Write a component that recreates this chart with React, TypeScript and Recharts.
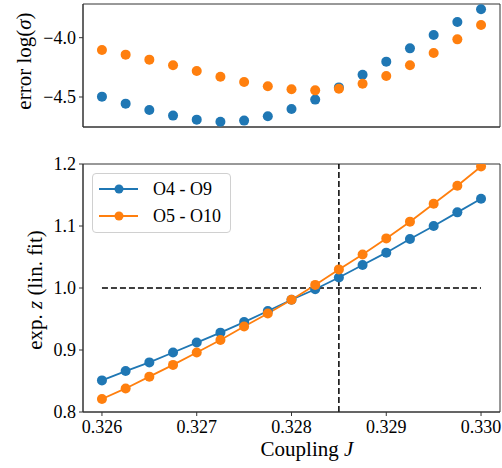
import {
  Legend,
  Line,
  LineChart,
  ReferenceArea,
  ReferenceLine,
  Scatter,
  ScatterChart,
  XAxis,
  YAxis,
} from "recharts";

const BLUE = "#1f77b4";
const ORANGE = "#ff7f0e";
const FONT = "Liberation Serif, Times New Roman, serif";
const SPINE = "#333";

// coupling J values shared by both panels
const couplings = [
  0.326, 0.32625, 0.3265, 0.32675, 0.327, 0.32725, 0.3275, 0.32775, 0.328, 0.32825, 0.3285, 0.32875,
  0.329, 0.32925, 0.3295, 0.32975, 0.33,
];

// top panel: error log(sigma)
const errO4O9 = [
  -4.497, -4.556, -4.61, -4.657, -4.691, -4.708, -4.699, -4.663, -4.601, -4.522, -4.419, -4.312, -4.202,
  -4.09, -3.978, -3.868, -3.761,
];
const errO5O10 = [
  -4.104, -4.143, -4.185, -4.233, -4.281, -4.329, -4.374, -4.41, -4.435, -4.444, -4.43, -4.388, -4.323,
  -4.233, -4.129, -4.014, -3.893,
];

// bottom panel: exp. z (lin. fit)
const zO4O9 = [
  0.851, 0.866, 0.88, 0.896, 0.912, 0.928, 0.945, 0.963, 0.981, 0.998, 1.017, 1.037, 1.057, 1.079, 1.1,
  1.122, 1.144,
];
const zO5O10 = [
  0.821, 0.838, 0.857, 0.876, 0.896, 0.916, 0.938, 0.959, 0.981, 1.005, 1.03, 1.054, 1.08, 1.107, 1.136,
  1.165, 1.196,
];

const xTicks = [0.326, 0.327, 0.328, 0.329, 0.33];
const errTicks = [-4.5, -4.0];
const zTicks = [0.8, 0.9, 1.0, 1.1, 1.2];
const seriesNames = ["O4 - O9", "O5 - O10"];
const criticalJ = 0.3285;

const xDomain: [number, number] = [0.3258, 0.3302];
const errDomain: [number, number] = [-4.753, -3.716];
const zDomain: [number, number] = [0.8, 1.2];

const errA = couplings.map((J, i) => ({ J, v: errO4O9[i] }));
const errB = couplings.map((J, i) => ({ J, v: errO5O10[i] }));
const zRows = couplings.map((J, i) => ({ J, a: zO4O9[i], b: zO5O10[i] }));

const dotA = (p: any) => <circle key={`a${p.cx}`} cx={p.cx} cy={p.cy} r={5} fill={BLUE} />;
const dotB = (p: any) => <circle key={`b${p.cx}`} cx={p.cx} cy={p.cy} r={5} fill={ORANGE} />;

function XTick({ x, y, payload }: any) {
  return (
    <text x={x} y={y + 14} textAnchor="middle" fontFamily={FONT} fontSize={18} fill="#000">
      {Number(payload.value).toFixed(3)}
    </text>
  );
}

function YTick({ x, y, payload, digits, minus }: any) {
  let s = Number(payload.value).toFixed(digits);
  if (minus) s = s.replace("-", "\u2212");
  return (
    <text x={x} y={y + 6} textAnchor="end" fontFamily={FONT} fontSize={18} fill="#000">
      {s}
    </text>
  );
}

function LegendBox({ payload }: any) {
  return (
    <div
      style={{
        background: "rgba(255,255,255,0.8)",
        border: "1px solid #d0d0d0",
        borderRadius: 4,
        padding: "2px 0 3px 0",
        width: 139,
        boxSizing: "border-box",
        fontFamily: FONT,
        fontSize: 18,
        color: "#000",
      }}
    >
      {(payload || []).map((e: any) => (
        <div key={e.value} style={{ display: "flex", alignItems: "center", height: 26.7 }}>
          <svg width={60} height={14} style={{ flex: "none" }}>
            <line x1={6} x2={45} y1={7} y2={7} stroke={e.color} strokeWidth={1.8} />
            <circle cx={26} cy={7} r={4.5} fill={e.color} />
          </svg>
          <span style={{ lineHeight: "20px" }}>{e.value}</span>
        </div>
      ))}
    </div>
  );
}

export default function App() {
  return (
    <div style={{ position: "absolute", left: 0, top: 0, width: 502, height: 468, background: "#fff" }}>
      <div style={{ position: "absolute", left: 0, top: 0 }}>
        <ScatterChart width={502} height={140} margin={{ top: 4, right: 2, bottom: 0, left: 0 }}>
          <ReferenceArea
            x1={xDomain[0]}
            x2={xDomain[1]}
            y1={errDomain[0]}
            y2={errDomain[1]}
            fill="none"
            stroke={SPINE}
            strokeWidth={1}
          />
          <XAxis
            dataKey="J"
            type="number"
            domain={xDomain}
            ticks={xTicks}
            allowDataOverflow
            tick={false}
            tickSize={4}
            height={13}
            axisLine={{ stroke: SPINE }}
            tickLine={{ stroke: SPINE }}
          />
          <YAxis
            dataKey="v"
            type="number"
            domain={errDomain}
            ticks={errTicks}
            allowDataOverflow
            width={83}
            tickSize={4}
            tickMargin={3}
            tick={<YTick digits={1} minus />}
            axisLine={{ stroke: SPINE }}
            tickLine={{ stroke: SPINE }}
            label={{
              content: () => (
                <text
                  x={31}
                  y={61}
                  transform="rotate(-90 31 61)"
                  textAnchor="middle"
                  fontFamily={FONT}
                  fontSize={21}
                  fill="#000"
                >
                  error log(<tspan fontStyle="italic">σ</tspan>)
                </text>
              ),
            }}
          />
          <Scatter data={errA} fill={BLUE} shape={dotA} isAnimationActive={false} />
          <Scatter data={errB} fill={ORANGE} shape={dotB} isAnimationActive={false} />
        </ScatterChart>
      </div>
      <div style={{ position: "absolute", left: 0, top: 140 }}>
        <LineChart width={502} height={328} data={zRows} margin={{ top: 24, right: 2, bottom: 0, left: 0 }}>
          <ReferenceArea
            x1={xDomain[0]}
            x2={xDomain[1]}
            y1={zDomain[0]}
            y2={zDomain[1]}
            fill="none"
            stroke={SPINE}
            strokeWidth={1}
          />
          <XAxis
            dataKey="J"
            type="number"
            domain={xDomain}
            ticks={xTicks}
            allowDataOverflow
            height={56}
            tickSize={4}
            tickMargin={3}
            tick={<XTick />}
            axisLine={{ stroke: SPINE }}
            tickLine={{ stroke: SPINE }}
            label={{
              content: () => (
                <text x={307} y={316} textAnchor="middle" fontFamily={FONT} fontSize={21} fill="#000">
                  Coupling <tspan fontStyle="italic">J</tspan>
                </text>
              ),
            }}
          />
          <YAxis
            type="number"
            domain={zDomain}
            ticks={zTicks}
            allowDataOverflow
            width={83}
            tickSize={4}
            tickMargin={3}
            tick={<YTick digits={1} />}
            axisLine={{ stroke: SPINE }}
            tickLine={{ stroke: SPINE }}
            label={{
              content: () => (
                <text
                  x={42}
                  y={150}
                  transform="rotate(-90 42 150)"
                  textAnchor="middle"
                  fontFamily={FONT}
                  fontSize={21}
                  fill="#000"
                >
                  exp. <tspan fontStyle="italic">z</tspan> (lin. fit)
                </text>
              ),
            }}
          />
          <ReferenceLine x={criticalJ} stroke="#000" strokeWidth={1.5} strokeDasharray="6 3" />
          <ReferenceLine
            segment={[
              { x: xTicks[0], y: 1 },
              { x: xTicks[xTicks.length - 1], y: 1 },
            ]}
            stroke="#000"
            strokeWidth={1.5}
            strokeDasharray="6 3"
          />
          <Line
            dataKey="a"
            name={seriesNames[0]}
            stroke={BLUE}
            strokeWidth={1.8}
            dot={{ r: 5, fill: BLUE, stroke: "none" }}
            activeDot={false}
            isAnimationActive={false}
          />
          <Line
            dataKey="b"
            name={seriesNames[1]}
            stroke={ORANGE}
            strokeWidth={1.8}
            dot={{ r: 5, fill: ORANGE, stroke: "none" }}
            activeDot={false}
            isAnimationActive={false}
          />
          <Legend
            layout="vertical"
            align="center"
            verticalAlign="middle"
            wrapperStyle={{ left: 92, top: 33, width: 139 }}
            content={<LegendBox />}
          />
        </LineChart>
      </div>
    </div>
  );
}
